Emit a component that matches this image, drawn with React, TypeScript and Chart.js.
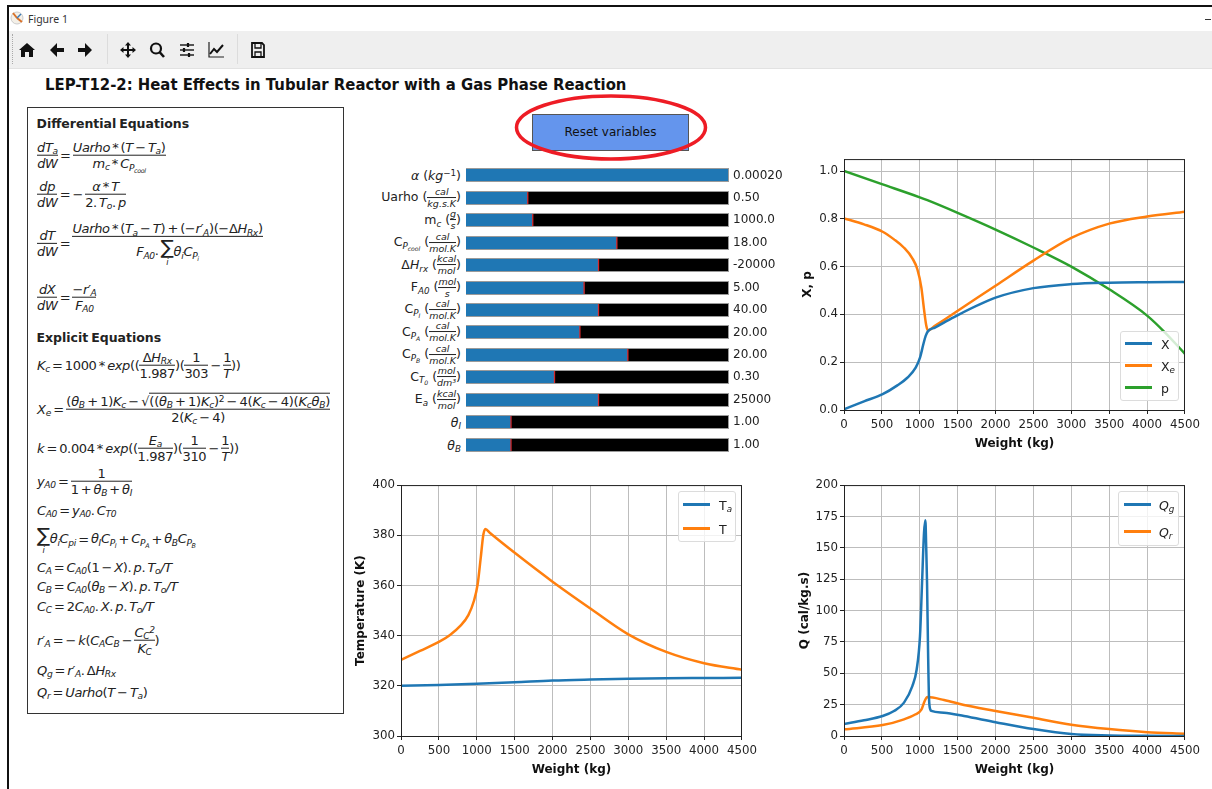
import React, { useEffect, useRef } from "react";
import { Chart, registerables } from "chart.js";
Chart.register(...registerables);

// ---------- data ----------
const X_TICKS = [0, 500, 1000, 1500, 2000, 2500, 3000, 3500, 4000, 4500];
const XP_TICKS = [0, 0.2, 0.4, 0.6, 0.8, 1.0];
const TEMP_TICKS = [300, 320, 340, 360, 380, 400];
const Q_TICKS = [0, 25, 50, 75, 100, 125, 150, 175, 200];

const W_X = [0, 264, 510, 704, 836, 946, 1003, 1047, 1078, 1109, 1200, 1452, 2000, 2500, 3000, 3500, 4000, 4500];
const X_VALUES = [0.003, 0.036, 0.066, 0.103, 0.135, 0.177, 0.219, 0.275, 0.31, 0.33, 0.345, 0.389, 0.47, 0.51, 0.527, 0.533, 0.535, 0.536];
const W_XE = [0, 264, 510, 660, 792, 902, 968, 1021, 1056, 1087, 1109, 1200, 1452, 2000, 2500, 3000, 3500, 4000, 4500];
const XE_VALUES = [0.802, 0.777, 0.746, 0.714, 0.679, 0.635, 0.589, 0.512, 0.421, 0.351, 0.333, 0.352, 0.405, 0.52, 0.625, 0.72, 0.78, 0.81, 0.83];
const W_P = [0, 500, 1000, 1100, 1500, 2000, 2500, 3000, 3500, 4000, 4250, 4500];
const P_VALUES = [1, 0.945, 0.89, 0.878, 0.825, 0.755, 0.68, 0.6, 0.505, 0.395, 0.32, 0.235];

const W_TA = [0, 500, 1000, 1500, 2000, 2500, 3000, 3500, 4000, 4500];
const TA_VALUES = [320, 320.3, 320.8, 321.4, 322.1, 322.5, 322.8, 323, 323.1, 323.2];
const W_T = [0, 251, 506, 647, 779, 889, 964, 1012, 1052, 1087, 1113, 1175, 1505, 2000, 2500, 3000, 3500, 4000, 4500];
const T_VALUES = [330.3, 333.9, 337.6, 340.3, 343.8, 348.2, 354, 360.6, 371, 380.3, 382.5, 380.9, 372.9, 361.5, 350.8, 340.5, 333.5, 329, 326.4];

const W_QG = [0, 264, 510, 660, 792, 902, 959, 1003, 1030, 1056, 1074, 1085, 1096, 1109, 1122, 1140, 1153, 1320, 1584, 2000, 2500, 3000, 3500, 4000, 4500];
const QG_VALUES = [9.6, 12.5, 15.9, 19.9, 26.6, 39.8, 53, 79.7, 122, 162, 172, 150, 122, 69, 30, 21, 20, 18.6, 15.9, 11, 5.5, 1.5, 0.4, 0.1, 0];
const W_QR = [0, 510, 792, 946, 1021, 1065, 1100, 1320, 1584, 2000, 2500, 3000, 3500, 4000, 4500];
const QR_VALUES = [5.3, 8.7, 13.3, 17.3, 21, 27.9, 31, 28.7, 24.7, 20, 14.5, 9, 5.5, 3, 1.8];

const SLIDER_NAMES = ["alpha", "Uarho", "mc", "Cpcool", "dHrx", "FA0", "CpI", "CpA", "CpB", "CT0", "Ea", "thetaI", "thetaB"];
const SLIDER_FRACTIONS = [1, 0.232, 0.251, 0.572, 0.502, 0.447, 0.502, 0.431, 0.614, 0.334, 0.502, 0.168, 0.168];
const SLIDER_VALUES = ["0.00020", "0.50", "1000.0", "18.00", "-20000", "5.00", "40.00", "20.00", "20.00", "0.30", "25000", "1.00", "1.00"];

const BLUE = "#1f77b4";
const ORANGE = "#ff7f0e";
const GREEN = "#2ca02c";
const FONT = "'DejaVu Sans', sans-serif";
const INK = "#222";
const TICK_SIZE = 11.8;

// ---------- math helpers ----------
const I = ({ children }: any) => <span style={{ fontStyle: "italic" }}>{children}</span>;
const Sb = ({ children }: any) => <sub style={{ fontSize: "0.7em", verticalAlign: "-0.3em", lineHeight: 0 }}>{children}</sub>;
const Sp = ({ children }: any) => <sup style={{ fontSize: "0.7em", verticalAlign: "0.45em", lineHeight: 0 }}>{children}</sup>;
const F = ({ n, d, size }: any) => (
  <span style={{ display: "inline-flex", flexDirection: "column", alignItems: "stretch", textAlign: "center", verticalAlign: "middle", fontSize: size, lineHeight: size ? 1.05 : 1.1 }}>
    <span style={{ borderBottom: `1px solid ${INK}` }}>{n}</span>
    <span style={{ paddingTop: 1 }}>{d}</span>
  </span>
);
const Eq = ({ y, x = 37, size = 13, tight = -0.35, children }: any) => (
  <div style={{ position: "absolute", left: x, top: y, transform: "translateY(-50%)", whiteSpace: "pre", fontFamily: FONT, fontSize: size, letterSpacing: tight, wordSpacing: "-0.12em", color: INK, lineHeight: 1.15 }}>{children}</div>
);
const Sum = ({ under }: any) => (
  <span style={{ display: "inline-flex", flexDirection: "column", alignItems: "center", verticalAlign: "middle", lineHeight: 1 }}>
    <span style={{ fontSize: "1.5em" }}>∑</span>
    {under ? <span style={{ fontSize: "0.65em", fontStyle: "italic" }}>{under}</span> : null}
  </span>
);

const Frac9 = (n: any, d: any) => <F n={<I>{n}</I>} d={<I>{d}</I>} size={9.5} />;

const SLIDER_LABELS: any[] = [
  <span><I>α</I> (<I>kg</I><Sp>−1</Sp>)</span>,
  <span>Uarho ({Frac9("cal", "kg.s.K")})</span>,
  <span>m<Sb><I>c</I></Sb> ({Frac9("g", "s")})</span>,
  <span>C<Sb><I>P<Sb>cool</Sb></I></Sb> ({Frac9("cal", "mol.K")})</span>,
  <span>Δ<I>H</I><Sb><I>rx</I></Sb> ({Frac9("kcal", "mol")})</span>,
  <span>F<Sb><I>A0</I></Sb> ({Frac9("mol", "s")})</span>,
  <span>C<Sb><I>P<Sb>I</Sb></I></Sb> ({Frac9("cal", "mol.K")})</span>,
  <span>C<Sb><I>P<Sb>A</Sb></I></Sb> ({Frac9("cal", "mol.K")})</span>,
  <span>C<Sb><I>P<Sb>B</Sb></I></Sb> ({Frac9("cal", "mol.K")})</span>,
  <span>C<Sb><I>T<Sb>0</Sb></I></Sb> ({Frac9("mol", "dm³")})</span>,
  <span>E<Sb><I>a</I></Sb> ({Frac9("kcal", "mol")})</span>,
  <span><I>θ<Sb>I</Sb></I></span>,
  <span><I>θ<Sb>B</Sb></I></span>,
];

// ---------- chart helpers ----------
const framePlugin = {
  id: "frame",
  afterDatasetsDraw(chart: any) {
    const { ctx, chartArea: a } = chart;
    ctx.save();
    ctx.strokeStyle = "#222";
    ctx.lineWidth = 1;
    ctx.strokeRect(a.left + 0.5, a.top + 0.5, a.right - a.left - 1, a.bottom - a.top);
    ctx.restore();
  },
};

function lineConfig(datasets: any[], yMin: number, yMax: number, yTicks: number[], yLabel: string, axisW: number, tickFmt: (v: number) => string) {
  return {
    type: "line" as const,
    data: {
      datasets: datasets.map((d) => ({
        label: d.label,
        data: d.xs.map((x: number, i: number) => ({ x, y: d.ys[i] })),
        borderColor: d.color,
        backgroundColor: d.color,
        borderWidth: 2.5,
        pointRadius: 0,
        cubicInterpolationMode: "monotone",
      })),
    },
    options: {
      animation: false,
      responsive: false,
      layout: { autoPadding: false, padding: { top: 8, right: 16, left: 0, bottom: 0 } },
      plugins: { legend: { display: false }, title: { display: false }, tooltip: { enabled: false } },
      scales: {
        x: {
          type: "linear",
          min: 0,
          max: 4500,
          afterFit: (s: any) => { s.height = 41; },
          afterBuildTicks: (s: any) => { s.ticks = X_TICKS.map((value) => ({ value })); },
          ticks: { autoSkip: false, maxRotation: 0, padding: 4, color: INK, font: { family: FONT, size: TICK_SIZE }, callback: (v: any) => String(v) },
          grid: { color: "#bdbdbd", lineWidth: 1, tickColor: "#222", tickLength: 4 },
          border: { color: "#222" },
          title: { display: true, text: "Weight (kg)", color: "#111", padding: 0, font: { family: FONT, size: 12, weight: "bold" } },
        },
        y: {
          min: yMin,
          max: yMax,
          afterFit: (s: any) => { s.width = axisW; },
          afterBuildTicks: (s: any) => { s.ticks = yTicks.map((value) => ({ value })); },
          ticks: { padding: 2, color: INK, font: { family: FONT, size: TICK_SIZE }, callback: (v: any) => tickFmt(Number(v)) },
          grid: { color: "#bdbdbd", lineWidth: 1, tickColor: "#222", tickLength: 4 },
          border: { color: "#222" },
          title: { display: true, text: yLabel, color: "#111", padding: 0, font: { family: FONT, size: 12, weight: "bold" } },
        },
      },
    },
    plugins: [framePlugin],
  };
}

const Legend = ({ box, rows, size = 12.5 }: any) => (
  <div style={{ position: "absolute", left: box[0], top: box[1], width: box[2], height: box[3], background: "rgba(255,255,255,0.8)", border: "1px solid #dcdcdc", borderRadius: 3, boxSizing: "border-box" }}>
    {rows.map((r: any, i: number) => (
      <React.Fragment key={i}>
        <div style={{ position: "absolute", left: r.lx - box[0], top: r.y - box[1] - 2, width: 27, height: 2.5, background: r.color }} />
        <div style={{ position: "absolute", left: r.tx - box[0], top: r.y - box[1], transform: "translateY(-50%)", fontFamily: FONT, fontSize: size, color: INK, whiteSpace: "pre" }}>{r.text}</div>
      </React.Fragment>
    ))}
  </div>
);

const Icon = ({ x, children }: any) => (
  <svg style={{ position: "absolute", left: x - 10, top: 40 }} width={20} height={20} viewBox="0 0 20 20">{children}</svg>
);

export default function App() {
  const xpRef = useRef<HTMLCanvasElement>(null);
  const tRef = useRef<HTMLCanvasElement>(null);
  const qRef = useRef<HTMLCanvasElement>(null);
  const barRef = useRef<HTMLCanvasElement>(null);
  const labelRefs = useRef<(HTMLDivElement | null)[]>([]);

  useEffect(() => {
    document.body.style.margin = "0";
    document.body.style.overflow = "hidden";
    const charts: any[] = [];
    charts.push(new Chart(xpRef.current as any, lineConfig([
      { label: "X", xs: W_X, ys: X_VALUES, color: BLUE },
      { label: "Xe", xs: W_XE, ys: XE_VALUES, color: ORANGE },
      { label: "p", xs: W_P, ys: P_VALUES, color: GREEN },
    ], 0, 1.05, XP_TICKS, "X, p", 43, (v) => v.toFixed(1)) as any));
    charts.push(new Chart(tRef.current as any, lineConfig([
      { label: "Ta", xs: W_TA, ys: TA_VALUES, color: BLUE },
      { label: "T", xs: W_T, ys: T_VALUES, color: ORANGE },
    ], 300, 400, TEMP_TICKS, "Temperature (K)", 47, (v) => String(v)) as any));
    charts.push(new Chart(qRef.current as any, lineConfig([
      { label: "Qg", xs: W_QG, ys: QG_VALUES, color: BLUE },
      { label: "Qr", xs: W_QR, ys: QR_VALUES, color: ORANGE },
    ], 0, 200, Q_TICKS, "Q (cal/kg.s)", 46, (v) => String(v)) as any));

    const barFrame = {
      id: "barFrame",
      afterDatasetsDraw(chart: any) {
        const { ctx, chartArea: a, scales } = chart;
        ctx.save();
        ctx.strokeStyle = "#9a9a9a";
        ctx.lineWidth = 1;
        SLIDER_NAMES.forEach((_, i) => {
          const y = scales.y.getPixelForValue(i);
          ctx.strokeRect(a.left - 0.5, Math.round(y) - 6.5, a.right - a.left + 1, 13);
        });
        ctx.restore();
      },
    };
    const bar = new Chart(barRef.current as any, {
      type: "bar",
      data: {
        labels: SLIDER_NAMES,
        datasets: [
          { label: "value", data: SLIDER_FRACTIONS, backgroundColor: BLUE, barThickness: 12 },
          { label: "initial", data: SLIDER_FRACTIONS.map(() => 0.005), backgroundColor: "#d62728", barThickness: 12 },
          { label: "range", data: SLIDER_FRACTIONS.map((f) => Math.max(0, 1 - f - 0.005)), backgroundColor: "#000", barThickness: 12 },
        ],
      },
      options: {
        indexAxis: "y",
        animation: false,
        responsive: false,
        layout: { autoPadding: false, padding: 0 },
        plugins: { legend: { display: false }, tooltip: { enabled: false } },
        scales: {
          x: { stacked: true, min: 0, max: 1, display: false },
          y: { stacked: true, display: false, type: "category", labels: SLIDER_NAMES },
          y2: {
            type: "category",
            position: "right",
            labels: SLIDER_VALUES,
            afterFit: (s: any) => { s.width = 72; },
            grid: { display: false, drawTicks: false },
            border: { display: false },
            ticks: { autoSkip: false, padding: 5, color: INK, font: { family: FONT, size: 12 } },
          },
        },
      },
      plugins: [barFrame],
    } as any);
    charts.push(bar);
    const yScale: any = bar.scales.y;
    SLIDER_NAMES.forEach((_, i) => {
      const el = labelRefs.current[i];
      if (el) el.style.top = 152 + yScale.getPixelForValue(i) + "px";
    });
    return () => charts.forEach((c) => c.destroy());
  }, []);

  const cv = (left: number, top: number, w: number, h: number): any => ({ position: "absolute", left, top, width: w, height: h });

  return (
    <div style={{ position: "absolute", left: 0, top: 0, width: 1212, height: 789, background: "#fff", overflow: "hidden", filter: "blur(0.4px)" }}>
      {/* window chrome */}
      <div style={{ position: "absolute", left: 8, top: 5, right: 0, height: 2, background: "#111" }} />
      <div style={{ position: "absolute", left: 7, top: 5, width: 2, height: 784, background: "#111" }} />
      <div style={{ position: "absolute", left: 9, top: 31, right: 0, height: 37, background: "#efefef", borderBottom: "1px solid #e2e2e2" }} />
      <svg style={{ position: "absolute", left: 10, top: 11 }} width={14} height={14} viewBox="0 0 14 14">
        <circle cx="7" cy="7" r="6" fill="#f4f0e8" stroke="#ccc" />
        <path d="M7 7 L3 2 M7 7 L12 11" stroke="#d9722a" strokeWidth="2" />
        <path d="M7 7 L11 3" stroke="#3b7bb8" strokeWidth="1.5" />
      </svg>
      <div style={{ position: "absolute", left: 28, top: 12, fontFamily: "'Noto Sans', sans-serif", fontSize: 10.5, color: "#333", lineHeight: "14px" }}>Figure 1</div>
      <div style={{ position: "absolute", left: 1205, top: 19, width: 6, height: 1, background: "#333" }} />
      <div style={{ position: "absolute", left: 12, top: 34, height: 30, width: 0, borderLeft: "1px dotted #aaa" }} />
      <div style={{ position: "absolute", left: 107, top: 34, height: 30, width: 1, background: "#dcdcdc" }} />
      <div style={{ position: "absolute", left: 237, top: 34, height: 30, width: 1, background: "#dcdcdc" }} />
      <Icon x={27}><path d="M10 3 L18 10 L16 10 L16 17 L12 17 L12 12 L8 12 L8 17 L4 17 L4 10 L2 10 Z" fill="#111" /></Icon>
      <Icon x={57}><path d="M3 10 L10 3 L10 8 L17 8 L17 12 L10 12 L10 17 Z" fill="#111" /></Icon>
      <Icon x={85}><path d="M17 10 L10 3 L10 8 L3 8 L3 12 L10 12 L10 17 Z" fill="#111" /></Icon>
      <Icon x={128}><path d="M10 2 L13 5.5 L11 5.5 L11 9 L14.5 9 L14.5 7 L18 10 L14.5 13 L14.5 11 L11 11 L11 14.5 L13 14.5 L10 18 L7 14.5 L9 14.5 L9 11 L5.5 11 L5.5 13 L2 10 L5.5 7 L5.5 9 L9 9 L9 5.5 L7 5.5 Z" fill="#111" /></Icon>
      <Icon x={157}><circle cx="9" cy="8.5" r="5" fill="none" stroke="#111" strokeWidth="2.2" /><path d="M12.5 12 L17 17" stroke="#111" strokeWidth="2.6" /></Icon>
      <Icon x={187}><path d="M3 5 H17 M3 10 H17 M3 15 H17" stroke="#222" strokeWidth="1.3" /><path d="M11 3 V7 M7 8 V12 M12 13 V17" stroke="#111" strokeWidth="2.2" /></Icon>
      <Icon x={216}><path d="M3 2 V17 H18" fill="none" stroke="#222" strokeWidth="1.2" /><path d="M4 14 L8 9 L11 12 L17 5" fill="none" stroke="#111" strokeWidth="2" /></Icon>
      <Icon x={258}><path d="M4 3 H14 L16 5 V17 H4 Z" fill="none" stroke="#111" strokeWidth="1.8" /><path d="M7 3 V8 H13 V3 M7 17 V12 H13 V17" fill="none" stroke="#111" strokeWidth="1.3" /></Icon>

      {/* title */}
      <div style={{ position: "absolute", left: 45, top: 84, transform: "translateY(-50%) scaleX(0.93)", transformOrigin: "left center", fontFamily: FONT, fontWeight: "bold", fontSize: 16, color: "#111", whiteSpace: "pre" }}>
        LEP-T12-2: Heat Effects in Tubular Reactor with a Gas Phase Reaction
      </div>

      {/* equations box */}
      <div style={{ position: "absolute", left: 27, top: 107, width: 317, height: 607, border: "1px solid #333", boxSizing: "border-box" }} />
      <Eq y={124} x={36.5} size={12.5} tight={0}><b>Differential Equations</b></Eq>
      <Eq y={156}><F n={<I>dT<Sb>a</Sb></I>} d={<I>dW</I>} /> = <F n={<><I>Uarho</I> * (<I>T</I> − <I>T<Sb>a</Sb></I>)</>} d={<><I>m<Sb>c</Sb></I> * <I>C<Sb>P<Sb>cool</Sb></Sb></I></>} /></Eq>
      <Eq y={195}><F n={<I>dp</I>} d={<I>dW</I>} /> = − <F n={<><I>α</I> * <I>T</I></>} d={<>2. <I>T<Sb>o</Sb></I>. <I>p</I></>} /></Eq>
      <Eq y={244}><F n={<I>dT</I>} d={<I>dW</I>} /> = <F n={<><I>Uarho</I> * (<I>T<Sb>a</Sb></I> − <I>T</I>) + (−<I>r′<Sb>A</Sb></I>)(−Δ<I>H<Sb>Rx</Sb></I>)</>} d={<><I>F<Sb>A0</Sb></I>. <Sum under="i" /><I>θ<Sb>i</Sb>C<Sb>P<Sb>i</Sb></Sb></I></>} /></Eq>
      <Eq y={298}><F n={<I>dX</I>} d={<I>dW</I>} /> = <F n={<>−<I>r′<Sb>A</Sb></I></>} d={<I>F<Sb>A0</Sb></I>} /></Eq>
      <Eq y={338} x={36.5} size={12.5} tight={0}><b>Explicit Equations</b></Eq>
      <Eq y={366}><I>K<Sb>c</Sb></I> = 1000 * <I>exp</I>((<F n={<>Δ<I>H<Sb>Rx</Sb></I></>} d="1.987" />)(<F n="1" d="303" /> − <F n="1" d={<I>T</I>} />))</Eq>
      <Eq y={410} tight={-0.25}><I>X<Sb>e</Sb></I> = <F n={<>(<I>θ<Sb>B</Sb></I> + 1)<I>K<Sb>c</Sb></I> − √<span style={{ borderTop: `1px solid ${INK}` }}>((<I>θ<Sb>B</Sb></I> + 1)<I>K<Sb>c</Sb></I>)<Sp>2</Sp> − 4(<I>K<Sb>c</Sb></I> − 4)(<I>K<Sb>c</Sb>θ<Sb>B</Sb></I>)</span></>} d={<>2(<I>K<Sb>c</Sb></I> − 4)</>} /></Eq>
      <Eq y={449}><I>k</I> = 0.004 * <I>exp</I>((<F n={<I>E<Sb>a</Sb></I>} d="1.987" />)(<F n="1" d="310" /> − <F n="1" d={<I>T</I>} />))</Eq>
      <Eq y={482}><I>y<Sb>A0</Sb></I> = <F n="1" d={<>1 + <I>θ<Sb>B</Sb></I> + <I>θ<Sb>I</Sb></I></>} /></Eq>
      <Eq y={511}><I>C<Sb>A0</Sb></I> = <I>y<Sb>A0</Sb></I>. <I>C<Sb>T0</Sb></I></Eq>
      <Eq y={540}><Sum under="i" /><I>θ<Sb>i</Sb>C<Sb>pi</Sb></I> = <I>θ<Sb>I</Sb>C<Sb>P<Sb>I</Sb></Sb></I> + <I>C<Sb>P<Sb>A</Sb></Sb></I> + <I>θ<Sb>B</Sb>C<Sb>P<Sb>B</Sb></Sb></I></Eq>
      <Eq y={568}><I>C<Sb>A</Sb></I> = <I>C<Sb>A0</Sb></I>(1 − <I>X</I>). <I>p</I>. <I>T<Sb>o</Sb>/T</I></Eq>
      <Eq y={587}><I>C<Sb>B</Sb></I> = <I>C<Sb>A0</Sb></I>(<I>θ<Sb>B</Sb></I> − <I>X</I>). <I>p</I>. <I>T<Sb>o</Sb>/T</I></Eq>
      <Eq y={607}><I>C<Sb>C</Sb></I> = 2<I>C<Sb>A0</Sb></I>. <I>X</I>. <I>p</I>. <I>T<Sb>o</Sb>/T</I></Eq>
      <Eq y={641}><I>r′<Sb>A</Sb></I> = − <I>k</I>(<I>C<Sb>A</Sb>C<Sb>B</Sb></I> − <F n={<I>C<Sb>C</Sb><Sp>2</Sp></I>} d={<I>K<Sb>C</Sb></I>} />)</Eq>
      <Eq y={671}><I>Q<Sb>g</Sb></I> = <I>r′<Sb>A</Sb></I>. Δ<I>H<Sb>Rx</Sb></I></Eq>
      <Eq y={693}><I>Q<Sb>r</Sb></I> = <I>Uarho</I>(<I>T</I> − <I>T<Sb>a</Sb></I>)</Eq>

      {/* reset button + annotation */}
      <div style={{ position: "absolute", left: 532, top: 114, width: 157, height: 37, boxSizing: "border-box", background: "#6495ed", border: "1px solid #555", display: "flex", alignItems: "center", justifyContent: "center", fontFamily: FONT, fontSize: 12, color: "#111", paddingBottom: 2 }}>Reset variables</div>
      <svg style={{ position: "absolute", left: 0, top: 0, pointerEvents: "none" }} width={1212} height={789}>
        <ellipse cx={611} cy={127.5} rx={94.5} ry={31.5} fill="none" stroke="#ee1c25" strokeWidth={3.5} />
      </svg>

      {/* slider chart */}
      <canvas ref={barRef} width={334} height={316} style={cv(466, 152, 334, 316)} />
      {SLIDER_NAMES.map((n, i) => (
        <div key={n} ref={(el) => { labelRefs.current[i] = el; }} style={{ position: "absolute", right: 1212 - 461, top: 175 + i * 22.4, transform: "translateY(-50%)", fontFamily: FONT, fontSize: 12.5, color: INK, whiteSpace: "pre" }}>
          {SLIDER_LABELS[i]}
        </div>
      ))}

      {/* line charts */}
      <canvas ref={xpRef} width={403} height={301} style={cv(801, 150, 403, 301)} />
      <canvas ref={tRef} width={407} height={301} style={cv(354, 476, 407, 301)} />
      <canvas ref={qRef} width={406} height={301} style={cv(798, 476, 406, 301)} />

      <Legend box={[1120, 331, 59, 70]} rows={[
        { lx: 1124, tx: 1160, y: 343, color: BLUE, text: "X" },
        { lx: 1124, tx: 1160, y: 365, color: ORANGE, text: <>X<Sb><I>e</I></Sb></> },
        { lx: 1124, tx: 1160, y: 387, color: GREEN, text: "p" },
      ]} />
      <Legend box={[678, 491, 58, 51]} rows={[
        { lx: 682, tx: 718, y: 504, color: BLUE, text: <>T<Sb><I>a</I></Sb></> },
        { lx: 682, tx: 718, y: 528, color: ORANGE, text: "T" },
      ]} />
      <Legend box={[1118, 491, 61, 55]} rows={[
        { lx: 1123, tx: 1158, y: 504, color: BLUE, text: <I>Q<Sb>g</Sb></I> },
        { lx: 1123, tx: 1158, y: 531, color: ORANGE, text: <I>Q<Sb>r</Sb></I> },
      ]} />
    </div>
  );
}
